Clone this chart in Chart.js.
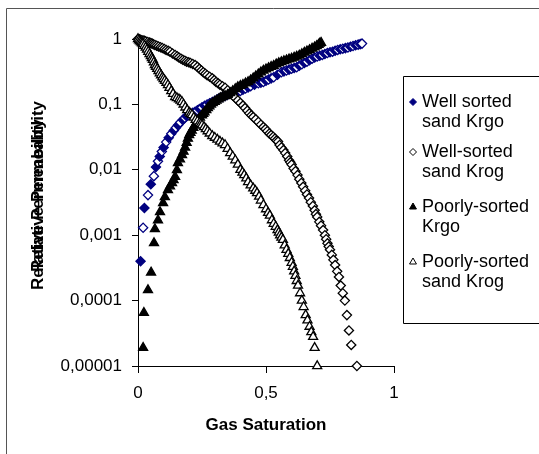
<!DOCTYPE html>
<html><head><meta charset="utf-8">
<script src="https://cdn.jsdelivr.net/npm/chart.js@4/dist/chart.umd.min.js"></script>
<style>html,body{margin:0;padding:0;background:#fff;overflow:hidden}#wrap{width:539px;height:454px}</style>
</head><body><div id="wrap"><canvas id="c" width="539" height="454"></canvas></div>
<script>
const xTitle = "Gas Saturation";
const yTitle = "Relative Permeability";
const seriesNames = [["Well sorted","sand Krgo"],["Well-sorted","sand Krog"],["Poorly-sorted","Krgo"],["Poorly-sorted","sand Krog"]];
const xTickValues = [0, 0.5, 1];
const xTickLabels = ["0", "0,5", "1"];
const yTickValues = [0.00001, 0.0001, 0.001, 0.01, 0.1, 1];
const yTickLabels = ["0,00001", "0,0001", "0,001", "0,01", "0,1", "1"];

const wellKrgo = [[0.010,0.0004],[0.020,0.0013],[0.025,0.0026],[0.039,0.0041],[0.050,0.0060],[0.062,0.0080],[0.070,0.0110],[0.078,0.0135],[0.085,0.0160],[0.093,0.0190],[0.100,0.0220],[0.110,0.0265],[0.120,0.0310],[0.130,0.0355],[0.140,0.0400],[0.148,0.0440],[0.156,0.0480],[0.165,0.0530],[0.175,0.0580],[0.183,0.0620],[0.190,0.0660],[0.198,0.0690],[0.205,0.0720],[0.214,0.0745],[0.223,0.0770],[0.232,0.0810],[0.240,0.0850],[0.250,0.0900],[0.260,0.0950],[0.270,0.1000],[0.280,0.1040],[0.290,0.1090],[0.300,0.1140],[0.310,0.1200],[0.320,0.1250],[0.330,0.1300],[0.340,0.1350],[0.350,0.1400],[0.365,0.1450],[0.380,0.1500],[0.390,0.1550],[0.400,0.1600],[0.410,0.1680],[0.420,0.1750],[0.430,0.1820],[0.440,0.1900],[0.455,0.2000],[0.470,0.2100],[0.480,0.2150],[0.490,0.2200],[0.500,0.2300],[0.510,0.2400],[0.520,0.2500],[0.530,0.2600],[0.545,0.2850],[0.560,0.3100],[0.570,0.3200],[0.580,0.3300],[0.590,0.3400],[0.600,0.3500],[0.610,0.3600],[0.620,0.3700],[0.630,0.3900],[0.640,0.4100],[0.650,0.4300],[0.660,0.4500],[0.670,0.4750],[0.680,0.5000],[0.690,0.5200],[0.700,0.5400],[0.710,0.5550],[0.720,0.5700],[0.730,0.5900],[0.740,0.6100],[0.750,0.6250],[0.760,0.6400],[0.770,0.6600],[0.780,0.6800],[0.790,0.6950],[0.800,0.7100],[0.810,0.7250],[0.820,0.7400],[0.830,0.7600],[0.840,0.7800],[0.850,0.8000],[0.860,0.8200],[0.868,0.8350],[0.875,0.8500]];

const wellKrog = [[0.000,1.00],[0.005,0.99],[0.010,0.97],[0.015,0.96],[0.020,0.95],[0.025,0.94],[0.030,0.92],[0.038,0.90],[0.045,0.88],[0.050,0.865],[0.055,0.85],[0.060,0.83],[0.066,0.81],[0.073,0.79],[0.080,0.77],[0.088,0.75],[0.095,0.73],[0.103,0.705],[0.110,0.68],[0.118,0.66],[0.125,0.64],[0.135,0.60],[0.145,0.57],[0.153,0.545],[0.160,0.52],[0.168,0.50],[0.175,0.48],[0.183,0.465],[0.190,0.45],[0.198,0.44],[0.205,0.43],[0.214,0.415],[0.223,0.40],[0.232,0.375],[0.240,0.35],[0.248,0.33],[0.255,0.31],[0.263,0.295],[0.270,0.28],[0.280,0.265],[0.290,0.25],[0.298,0.235],[0.305,0.22],[0.313,0.21],[0.320,0.20],[0.330,0.19],[0.340,0.18],[0.350,0.165],[0.360,0.15],[0.370,0.137],[0.380,0.125],[0.390,0.115],[0.400,0.105],[0.410,0.096],[0.418,0.088],[0.427,0.080],[0.435,0.073],[0.443,0.068],[0.450,0.064],[0.460,0.059],[0.470,0.054],[0.480,0.049],[0.490,0.045],[0.498,0.042],[0.505,0.039],[0.513,0.036],[0.520,0.034],[0.528,0.032],[0.535,0.030],[0.541,0.028],[0.547,0.027],[0.553,0.024],[0.560,0.022],[0.568,0.020],[0.575,0.018],[0.583,0.016],[0.590,0.014],[0.595,0.013],[0.600,0.012],[0.608,0.0105],[0.615,0.0095],[0.623,0.0083],[0.630,0.0072],[0.638,0.0063],[0.645,0.0055],[0.653,0.0048],[0.660,0.0042],[0.668,0.0037],[0.675,0.0032],[0.683,0.0028],[0.690,0.0024],[0.695,0.0021],[0.700,0.0019],[0.708,0.0016],[0.715,0.0014],[0.723,0.0012],[0.730,0.0010],[0.735,0.00087],[0.740,0.00075],[0.745,0.00067],[0.750,0.00060],[0.757,0.00050],[0.763,0.00042],[0.770,0.00035],[0.778,0.00028],[0.785,0.00023],[0.792,0.00017],[0.800,0.00013],[0.808,0.0001],[0.816,0.00006],[0.824,0.000035],[0.833,0.000021],[0.855,0.00001]];

const poorKrgo = [[0.020,0.000019],[0.023,0.000065],[0.039,0.000145],[0.051,0.00027],[0.0625,0.00076],[0.066,0.00124],[0.078,0.0017],[0.086,0.00226],[0.098,0.0031],[0.105,0.00384],[0.117,0.0049],[0.125,0.0056],[0.133,0.0063],[0.139,0.0070],[0.145,0.0078],[0.152,0.0099],[0.156,0.0127],[0.164,0.0145],[0.172,0.0168],[0.178,0.019],[0.184,0.022],[0.190,0.026],[0.195,0.030],[0.200,0.034],[0.205,0.037],[0.210,0.040],[0.216,0.044],[0.223,0.048],[0.229,0.053],[0.235,0.058],[0.242,0.063],[0.250,0.068],[0.255,0.072],[0.260,0.076],[0.267,0.082],[0.273,0.088],[0.279,0.094],[0.285,0.100],[0.292,0.105],[0.300,0.110],[0.307,0.115],[0.315,0.120],[0.322,0.125],[0.330,0.130],[0.340,0.135],[0.350,0.140],[0.360,0.150],[0.370,0.160],[0.380,0.172],[0.390,0.185],[0.400,0.192],[0.410,0.200],[0.420,0.210],[0.430,0.220],[0.440,0.235],[0.450,0.250],[0.460,0.270],[0.470,0.290],[0.480,0.310],[0.490,0.330],[0.500,0.345],[0.510,0.360],[0.520,0.375],[0.530,0.390],[0.540,0.410],[0.550,0.430],[0.560,0.445],[0.570,0.460],[0.580,0.475],[0.590,0.490],[0.600,0.505],[0.610,0.520],[0.620,0.540],[0.630,0.560],[0.640,0.590],[0.650,0.620],[0.660,0.650],[0.670,0.680],[0.680,0.715],[0.690,0.750],[0.698,0.785],[0.705,0.820],[0.710,0.850],[0.715,0.880]];

const poorKrog = [[0.000,1.00],[0.004,0.96],[0.008,0.92],[0.012,0.89],[0.016,0.86],[0.020,0.84],[0.025,0.79],[0.030,0.74],[0.035,0.69],[0.040,0.64],[0.045,0.59],[0.050,0.55],[0.054,0.51],[0.058,0.48],[0.062,0.44],[0.066,0.40],[0.070,0.375],[0.075,0.35],[0.080,0.325],[0.085,0.30],[0.090,0.28],[0.095,0.26],[0.100,0.245],[0.105,0.23],[0.111,0.215],[0.117,0.198],[0.123,0.18],[0.130,0.16],[0.137,0.145],[0.145,0.13],[0.152,0.125],[0.160,0.12],[0.166,0.115],[0.172,0.109],[0.178,0.10],[0.185,0.09],[0.192,0.082],[0.200,0.075],[0.206,0.072],[0.211,0.069],[0.218,0.063],[0.225,0.058],[0.232,0.055],[0.240,0.052],[0.245,0.050],[0.250,0.048],[0.258,0.045],[0.265,0.042],[0.272,0.039],[0.280,0.036],[0.290,0.033],[0.300,0.031],[0.310,0.029],[0.320,0.027],[0.330,0.0255],[0.340,0.024],[0.350,0.021],[0.360,0.018],[0.370,0.016],[0.380,0.014],[0.390,0.012],[0.400,0.010],[0.408,0.0091],[0.415,0.0083],[0.423,0.0074],[0.430,0.0065],[0.440,0.0058],[0.450,0.0052],[0.458,0.0048],[0.465,0.0044],[0.473,0.0039],[0.480,0.0034],[0.490,0.0029],[0.500,0.0025],[0.508,0.0022],[0.515,0.0020],[0.523,0.0017],[0.530,0.0015],[0.538,0.00135],[0.545,0.0012],[0.550,0.0011],[0.555,0.0010],[0.560,0.00092],[0.566,0.00085],[0.573,0.0007],[0.580,0.0006],[0.587,0.00052],[0.593,0.00045],[0.600,0.00038],[0.605,0.00033],[0.610,0.00028],[0.615,0.00024],[0.620,0.0002],[0.625,0.00017],[0.633,0.00013],[0.640,0.0001],[0.647,0.00008],[0.655,0.00006],[0.662,0.00005],[0.670,0.00004],[0.677,0.000033],[0.684,0.000028],[0.690,0.000019],[0.700,0.00001]];

const FONT = '"Liberation Sans", Arial, sans-serif';
const NAVY = '#000080';
const toPts = arr => arr.map(p => ({x: p[0], y: p[1]}));

const styles = [
  {shape:'rectRot', r:4.6, bg: c => (c.dataIndex % 2 ? '#ffffff' : NAVY), border: NAVY, legendFill: NAVY, legendStroke: NAVY},
  {shape:'rectRot', r:4.6, bg: '#ffffff', border: '#000000', legendFill: '#ffffff', legendStroke: '#000000'},
  {shape:'triangle', r:5.2, bg: '#000000', border: '#000000', legendFill: '#000000', legendStroke: '#000000'},
  {shape:'triangle', r:5.2, bg: '#ffffff', border: '#000000', legendFill: '#ffffff', legendStroke: '#000000'}
];
const allSeries = [wellKrgo, wellKrog, poorKrgo, poorKrog];

const datasets = allSeries.map((s, i) => ({
  label: seriesNames[i].join(' '),
  data: toPts(s),
  showLine: false,
  pointStyle: styles[i].shape,
  pointRadius: styles[i].r,
  pointBackgroundColor: styles[i].bg,
  pointBorderColor: styles[i].border,
  pointBorderWidth: 1.3,
  clip: false,
  order: 3 - i
}));

function drawMarker(ctx, shape, x, y, r, fill, stroke) {
  ctx.beginPath();
  if (shape === 'rectRot') {
    ctx.moveTo(x, y - r); ctx.lineTo(x + r, y); ctx.lineTo(x, y + r); ctx.lineTo(x - r, y);
  } else {
    ctx.moveTo(x, y - r); ctx.lineTo(x + r * 0.866, y + r * 0.5); ctx.lineTo(x - r * 0.866, y + r * 0.5);
  }
  ctx.closePath();
  ctx.fillStyle = fill; ctx.fill();
  ctx.strokeStyle = stroke; ctx.lineWidth = 1; ctx.stroke();
}

const decor = {
  id: 'decor',
  afterDraw(chart) {
    const ctx = chart.ctx;
    ctx.save();
    ctx.strokeStyle = '#555'; ctx.lineWidth = 1;
    ctx.beginPath(); ctx.moveTo(6.5, 470); ctx.lineTo(6.5, 8.5); ctx.lineTo(560, 8.5); ctx.stroke();
    ctx.fillStyle = '#000';
    ctx.font = 'bold 17px ' + FONT;
    ctx.textAlign = 'center'; ctx.textBaseline = 'middle';
    ctx.fillText(xTitle, (chart.chartArea.left + chart.chartArea.right) / 2, 425);
    ctx.textAlign = 'left';
    [290, 272].forEach(start => {
      ctx.save(); ctx.translate(38, start); ctx.rotate(-Math.PI / 2);
      ctx.fillText(yTitle, 0, 0); ctx.restore();
    });
    ctx.fillStyle = '#fff'; ctx.fillRect(403.5, 76.5, 170, 247);
    ctx.strokeStyle = '#000';
    ctx.beginPath(); ctx.moveTo(580, 76.5); ctx.lineTo(403.5, 76.5); ctx.lineTo(403.5, 323.5); ctx.lineTo(580, 323.5); ctx.stroke();
    const entryY = [102, 152, 207, 262];
    ctx.font = '18px ' + FONT; ctx.textBaseline = 'middle'; ctx.textAlign = 'left';
    seriesNames.forEach((lines, i) => {
      const st = styles[i];
      drawMarker(ctx, st.shape, 413, entryY[i], st.shape === 'rectRot' ? 3.5 : 4, st.legendFill, st.legendStroke);
      ctx.fillStyle = '#000';
      lines.forEach((t, j) => ctx.fillText(t, 422, entryY[i] + j * 20));
    });
    ctx.restore();
  }
};

Chart.defaults.font.family = FONT;
Chart.defaults.font.size = 17;
Chart.defaults.color = '#000';

new Chart(document.getElementById('c'), {
  type: 'scatter',
  data: { datasets },
  options: {
    responsive: false,
    animation: false,
    events: [],
    layout: { padding: { top: 39, right: 145, bottom: 0, left: 0 } },
    plugins: { legend: { display: false }, tooltip: { enabled: false } },
    scales: {
      x: {
        type: 'linear', min: 0, max: 1, position: 'bottom',
        afterBuildTicks: a => { a.ticks = xTickValues.map(v => ({ value: v })); },
        ticks: { callback: v => xTickLabels[xTickValues.indexOf(v)], padding: 10, maxRotation: 0, autoSkip: false, color: '#000', font: { size: 17 } },
        grid: { display: true, drawOnChartArea: false, drawTicks: true, tickLength: 7, color: '#000' },
        border: { display: true, color: '#000', width: 1 },
        afterFit: s => { s.height = 88; }
      },
      y: {
        type: 'logarithmic', min: 0.00001, max: 1, position: 'left',
        afterBuildTicks: a => { a.ticks = yTickValues.map(v => ({ value: v })); },
        ticks: {
          callback: v => yTickLabels[yTickValues.findIndex(t => Math.abs(Math.log10(t) - Math.log10(v)) < 1e-6)],
          padding: 10, autoSkip: false, color: '#000', font: { size: 17 }
        },
        grid: { display: true, drawOnChartArea: false, drawTicks: true, tickLength: 6, color: '#000' },
        border: { display: true, color: '#000', width: 1 },
        afterFit: s => { s.width = 138; }
      }
    }
  },
  plugins: [decor]
});
</script>
</body></html>
